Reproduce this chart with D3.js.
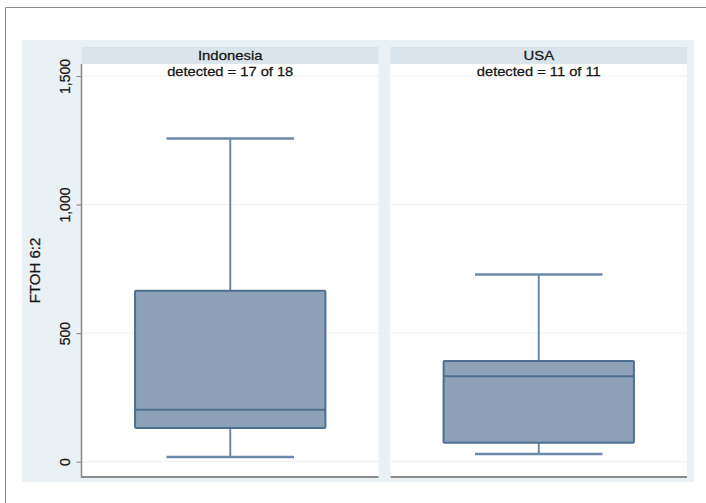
<!DOCTYPE html>
<html>
<head>
<meta charset="utf-8">
<script src="https://cdn.jsdelivr.net/npm/d3@7/dist/d3.min.js"></script>
<style>
  html, body { margin: 0; padding: 0; background: #ffffff; }
  svg { display: block; }
  text { font-family: "Liberation Sans", Arial, Helvetica, sans-serif; fill: #161616; stroke: #161616; stroke-width: 0.25px; }
</style>
</head>
<body>
<svg id="chart" width="706" height="503"></svg>
<script>
// Panels and their box-plot summaries (FTOH 6:2)
const countries = ["Indonesia", "USA"];
const detected = [17, 11];
const sampled = [18, 11];
const whiskerLow = [18, 30];
const quartile1 = [131, 74];
const medians = [202, 332];
const quartile3 = [665, 392];
const whiskerHigh = [1257, 728];
const yTicks = [0, 500, 1000, 1500];
const yTitle = "FTOH 6:2";

const svg = d3.select("#chart");

// outer frame
svg.append("line").attr("x1", 5.5).attr("x2", 706).attr("y1", 7.5).attr("y2", 7.5)
  .attr("stroke", "#8a8a8a").attr("stroke-width", 1);
svg.append("line").attr("x1", 5.5).attr("x2", 5.5).attr("y1", 7.5).attr("y2", 503)
  .attr("stroke", "#8a8a8a").attr("stroke-width", 1);

// graph region background
svg.append("rect").attr("x", 22).attr("y", 40).attr("width", 672).attr("height", 442)
  .attr("fill", "#eaf1f4");

const panelTop = 47, headerH = 17, panelBottom = 477;
const wide = 1.13; // horizontal text widening

const x = d3.scaleBand().domain(countries).range([82, 687]).paddingInner(0.039);
const y = d3.scaleLinear().domain([0, 1500]).range([461.7, 76]);

const fmt = d3.format(",");

countries.forEach((c, i) => {
  const x0 = x(c), bw = x.bandwidth(), cx = x0 + bw / 2;
  const g = svg.append("g");

  // header strip
  g.append("rect").attr("x", x0).attr("y", panelTop).attr("width", bw).attr("height", headerH)
    .attr("fill", "#d9e4eb");
  g.append("text").attr("transform", `translate(${cx},${panelTop + headerH / 2 + 4.8}) scale(${wide},1)`)
    .attr("text-anchor", "middle").attr("font-size", 13.2).text(c);

  // plot area
  g.append("rect").attr("x", x0).attr("y", panelTop + headerH).attr("width", bw)
    .attr("height", panelBottom - panelTop - headerH).attr("fill", "#ffffff");

  // gridlines
  g.selectAll(".grid").data(yTicks).join("line")
    .attr("x1", x0).attr("x2", x0 + bw)
    .attr("y1", d => y(d)).attr("y2", d => y(d))
    .attr("stroke", "#eaf1f4").attr("stroke-width", 1);

  // x-axis line
  g.append("line").attr("x1", x0).attr("x2", x0 + bw).attr("y1", panelBottom).attr("y2", panelBottom)
    .attr("stroke", "#8c8c8c").attr("stroke-width", 2);

  // subtitle note
  g.append("text").attr("transform", `translate(${cx},75.5) scale(${wide},1)`).attr("text-anchor", "middle")
    .attr("font-size", 13).text(`detected = ${detected[i]} of ${sampled[i]}`);

  // box plot
  const boxW = bw * 0.642, capW = bw * 0.43;
  const stroke = "#4f6f92", whisk = "#6b89a8";
  g.append("line").attr("x1", cx).attr("x2", cx).attr("y1", y(whiskerHigh[i])).attr("y2", y(quartile3[i]))
    .attr("stroke", whisk).attr("stroke-width", 2);
  g.append("line").attr("x1", cx).attr("x2", cx).attr("y1", y(quartile1[i])).attr("y2", y(whiskerLow[i]))
    .attr("stroke", whisk).attr("stroke-width", 2);
  g.append("line").attr("x1", cx - capW / 2).attr("x2", cx + capW / 2)
    .attr("y1", y(whiskerHigh[i])).attr("y2", y(whiskerHigh[i]))
    .attr("stroke", whisk).attr("stroke-width", 2.5);
  g.append("line").attr("x1", cx - capW / 2).attr("x2", cx + capW / 2)
    .attr("y1", y(whiskerLow[i])).attr("y2", y(whiskerLow[i]))
    .attr("stroke", whisk).attr("stroke-width", 2.5);
  g.append("rect").attr("x", cx - boxW / 2).attr("width", boxW)
    .attr("y", y(quartile3[i])).attr("height", y(quartile1[i]) - y(quartile3[i]))
    .attr("fill", "#8da2b8").attr("stroke", stroke).attr("stroke-width", 2).attr("rx", 1);
  g.append("line").attr("x1", cx - boxW / 2).attr("x2", cx + boxW / 2)
    .attr("y1", y(medians[i])).attr("y2", y(medians[i]))
    .attr("stroke", stroke).attr("stroke-width", 2);
});

// y axis
const yAxis = d3.axisLeft(y).tickValues(yTicks).tickSize(5).tickPadding(8).tickFormat(fmt);
const ag = svg.append("g").attr("transform", "translate(81.5,0)").call(yAxis);
ag.select(".domain").remove();
ag.append("line").attr("x1", 0).attr("x2", 0).attr("y1", panelTop + headerH).attr("y2", panelBottom + 1)
  .attr("stroke", "#8c8c8c").attr("stroke-width", 1.6);
ag.selectAll(".tick line").attr("stroke", "#8c8c8c").attr("stroke-width", 1.2);
ag.selectAll(".tick text")
  .attr("font-size", 14).attr("fill", "#161616")
  .attr("font-family", "'Liberation Sans', Arial, sans-serif")
  .attr("text-anchor", "middle").attr("x", null).attr("dy", null)
  .attr("transform", "translate(-12,0) rotate(-90)");

// y title
svg.append("text").attr("transform", `translate(40,${(panelTop + headerH + panelBottom) / 2}) rotate(-90)`)
  .attr("text-anchor", "middle").attr("font-size", 15).text(yTitle);
</script>
</body>
</html>
